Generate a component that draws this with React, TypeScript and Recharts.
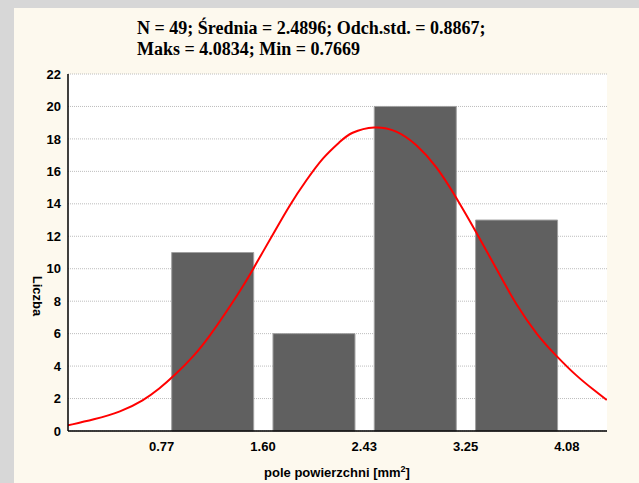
import React from 'react'
import { ComposedChart, Bar, Line, XAxis, YAxis, CartesianGrid } from 'recharts'

// histogram bins (edges from Min to Maks) and counts
const binEdges = [0.7669, 1.596, 2.4251, 3.2543, 4.0834]
const counts = [11, 6, 20, 13]
const yTicks = [0, 2, 4, 6, 8, 10, 12, 14, 16, 18, 20, 22]

// fitted normal curve
const curveX = [
  0.0, 0.21, 0.43, 0.62, 0.75, 0.86, 1.03, 1.16, 1.3, 1.44, 1.52, 1.6, 1.68,
  1.82, 1.95, 2.09, 2.23, 2.31, 2.51, 2.69, 2.85, 3.02, 3.17, 3.35, 3.51, 3.67,
  3.84, 4.0, 4.16, 4.3, 4.41,
]
const curveY = [
  0.35, 0.7, 1.17, 1.89, 2.62, 3.34, 4.6, 5.85, 7.38, 9.0, 10.05, 11.1, 12.15,
  14.0, 15.45, 16.9, 17.85, 18.4, 18.82, 18.55, 17.7, 16.3, 14.5, 12.15, 9.95,
  7.75, 5.9, 4.6, 3.4, 2.55, 1.91,
]

const barData = counts.map((c, i) => ({
  x: (binEdges[i] + binEdges[i + 1]) / 2,
  count: c,
}))
const curveData = curveX.map((x, i) => ({ x, y: curveY[i] }))

const xDomain = [0.0, 4.412]
const sansBold = { fontFamily: '"Liberation Sans", Arial, sans-serif', fontWeight: 700 }

export default function App() {
  return (
    <div style={{ position: 'absolute', left: 0, top: 0, width: 639, height: 483, background: '#d7d7d7' }}>
      <div style={{ position: 'absolute', left: 14, top: 8, right: 0, bottom: 0, background: '#fdf9ee' }} />
      <div
        style={{
          position: 'absolute',
          left: 137,
          top: 18,
          fontFamily: '"Liberation Serif", "Times New Roman", serif',
          fontWeight: 700,
          fontSize: 18,
          lineHeight: '21px',
          color: '#000',
          whiteSpace: 'nowrap',
        }}
      >
        <div>N = 49; Średnia = 2.4896; Odch.std. = 0.8867;</div>
        <div>Maks = 4.0834; Min = 0.7669</div>
      </div>
      <div
        style={{
          position: 'absolute',
          left: 37,
          top: 296,
          transform: 'translate(-50%, -50%) rotate(90deg)',
          ...sansBold,
          fontSize: 13,
          color: '#000',
        }}
      >
        Liczba
      </div>
      <div
        style={{
          position: 'absolute',
          left: 337,
          top: 472,
          transform: 'translate(-50%, -50%)',
          ...sansBold,
          fontSize: 13,
          color: '#000',
          whiteSpace: 'nowrap',
        }}
      >
        pole powierzchni [mm<sup style={{ fontSize: 9 }}>2</sup>]
      </div>
      <div style={{ position: 'absolute', left: 0, top: 0 }}>
        <ComposedChart
          width={639}
          height={483}
          data={barData}
          margin={{ top: 74, right: 32, bottom: 0, left: 0 }}
        >
          <CartesianGrid
            vertical={false}
            fill='#ffffff'
            stroke='#bdbdbd'
            strokeDasharray='1 1'
            yAxisId='left'
          />
          <XAxis
            dataKey='x'
            type='number'
            domain={xDomain}
            allowDataOverflow
            ticks={binEdges}
            tickFormatter={(v: number) => v.toFixed(2)}
            height={52}
            tickSize={0}
            tickMargin={11}
            axisLine={{ stroke: '#000', strokeWidth: 1.5 }}
            tick={{ fill: '#000', fontSize: 13, ...sansBold }}
          />
          <XAxis
            xAxisId='top'
            dataKey='x'
            type='number'
            orientation='top'
            mirror
            height={0}
            domain={xDomain}
            allowDataOverflow
            ticks={binEdges}
            tickFormatter={() => ''}
            tickSize={3}
            axisLine={{ stroke: '#333', strokeWidth: 1.5 }}
            tickLine={{ stroke: '#333' }}
          />
          <YAxis
            yAxisId='left'
            domain={[0, 22]}
            ticks={yTicks}
            width={68}
            tickSize={0}
            tickMargin={7}
            axisLine={{ stroke: '#000', strokeWidth: 1.5 }}
            tick={{ fill: '#000', fontSize: 13, ...sansBold }}
          />
          <YAxis
            yAxisId='right'
            orientation='right'
            mirror
            width={0}
            domain={[0, 22]}
            ticks={yTicks}
            tickFormatter={() => ''}
            tickSize={3}
            axisLine={{ stroke: '#000', strokeWidth: 1.5 }}
            tickLine={{ stroke: '#333' }}
          />
          <Bar
            yAxisId='left'
            dataKey='count'
            fill='#606060'
            stroke='#a0a0a0'
            strokeWidth={1}
            barSize={82}
            isAnimationActive={false}
          />
          <Line
            xAxisId='top'
            yAxisId='left'
            data={curveData}
            dataKey='y'
            type='basis'
            stroke='#ff0000'
            strokeWidth={2}
            dot={false}
            isAnimationActive={false}
          />
        </ComposedChart>
      </div>
    </div>
  )
}
